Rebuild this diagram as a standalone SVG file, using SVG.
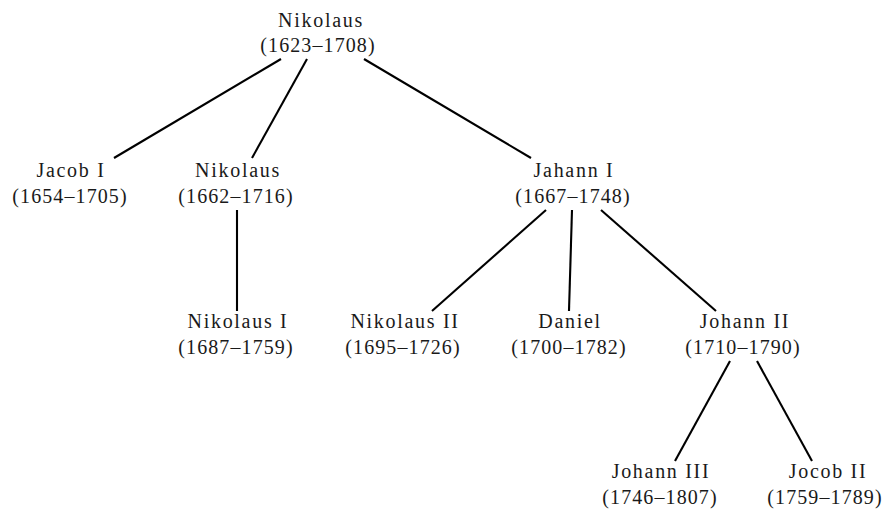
<svg xmlns="http://www.w3.org/2000/svg" width="890" height="513" viewBox="0 0 890 513">
<style>
text{font-family:"Liberation Serif","Times New Roman",serif;font-size:20px;letter-spacing:1.7px;fill:#1a1a1a;text-anchor:middle}
text.d{letter-spacing:1.1px}
.e line{stroke:#000;stroke-width:2.1;stroke-linecap:butt}
</style>
<rect width="890" height="513" fill="#fff"/>
<g class="e" id="connectors">
<line x1="281" y1="59" x2="114" y2="158"/>
<line x1="307" y1="59" x2="252" y2="158"/>
<line x1="364" y1="59" x2="531" y2="158"/>
<line x1="237" y1="210" x2="237" y2="311"/>
<line x1="546" y1="210" x2="432" y2="311"/>
<line x1="572" y1="210" x2="569" y2="311"/>
<line x1="601" y1="210" x2="716" y2="311"/>
<line x1="730" y1="361" x2="675" y2="461"/>
<line x1="757" y1="361" x2="812" y2="461"/>
</g>
<g id="n-root"><text x="321" y="27">Nikolaus</text><text class="d" x="318" y="52">(1623–1708)</text></g>
<g id="n-jacob1"><text x="71" y="177">Jacob I</text><text class="d" x="70" y="202.5">(1654–1705)</text></g>
<g id="n-nikolaus"><text x="238" y="177">Nikolaus</text><text class="d" x="236" y="202.5">(1662–1716)</text></g>
<g id="n-jahann1"><text x="574" y="177">Jahann I</text><text class="d" x="573" y="202.5">(1667–1748)</text></g>
<g id="n-nikolaus1"><text x="238" y="328">Nikolaus I</text><text class="d" x="236" y="353.5">(1687–1759)</text></g>
<g id="n-nikolaus2"><text x="405" y="328">Nikolaus II</text><text class="d" x="403" y="353.5">(1695–1726)</text></g>
<g id="n-daniel"><text x="570" y="328">Daniel</text><text class="d" x="569" y="353.5">(1700–1782)</text></g>
<g id="n-johann2"><text x="745" y="328">Johann II</text><text class="d" x="743" y="353.5">(1710–1790)</text></g>
<g id="n-johann3"><text x="661" y="478">Johann III</text><text class="d" x="660" y="503.5">(1746–1807)</text></g>
<g id="n-jocob2"><text x="828" y="478">Jocob II</text><text class="d" x="825" y="503.5">(1759–1789)</text></g>
</svg>
